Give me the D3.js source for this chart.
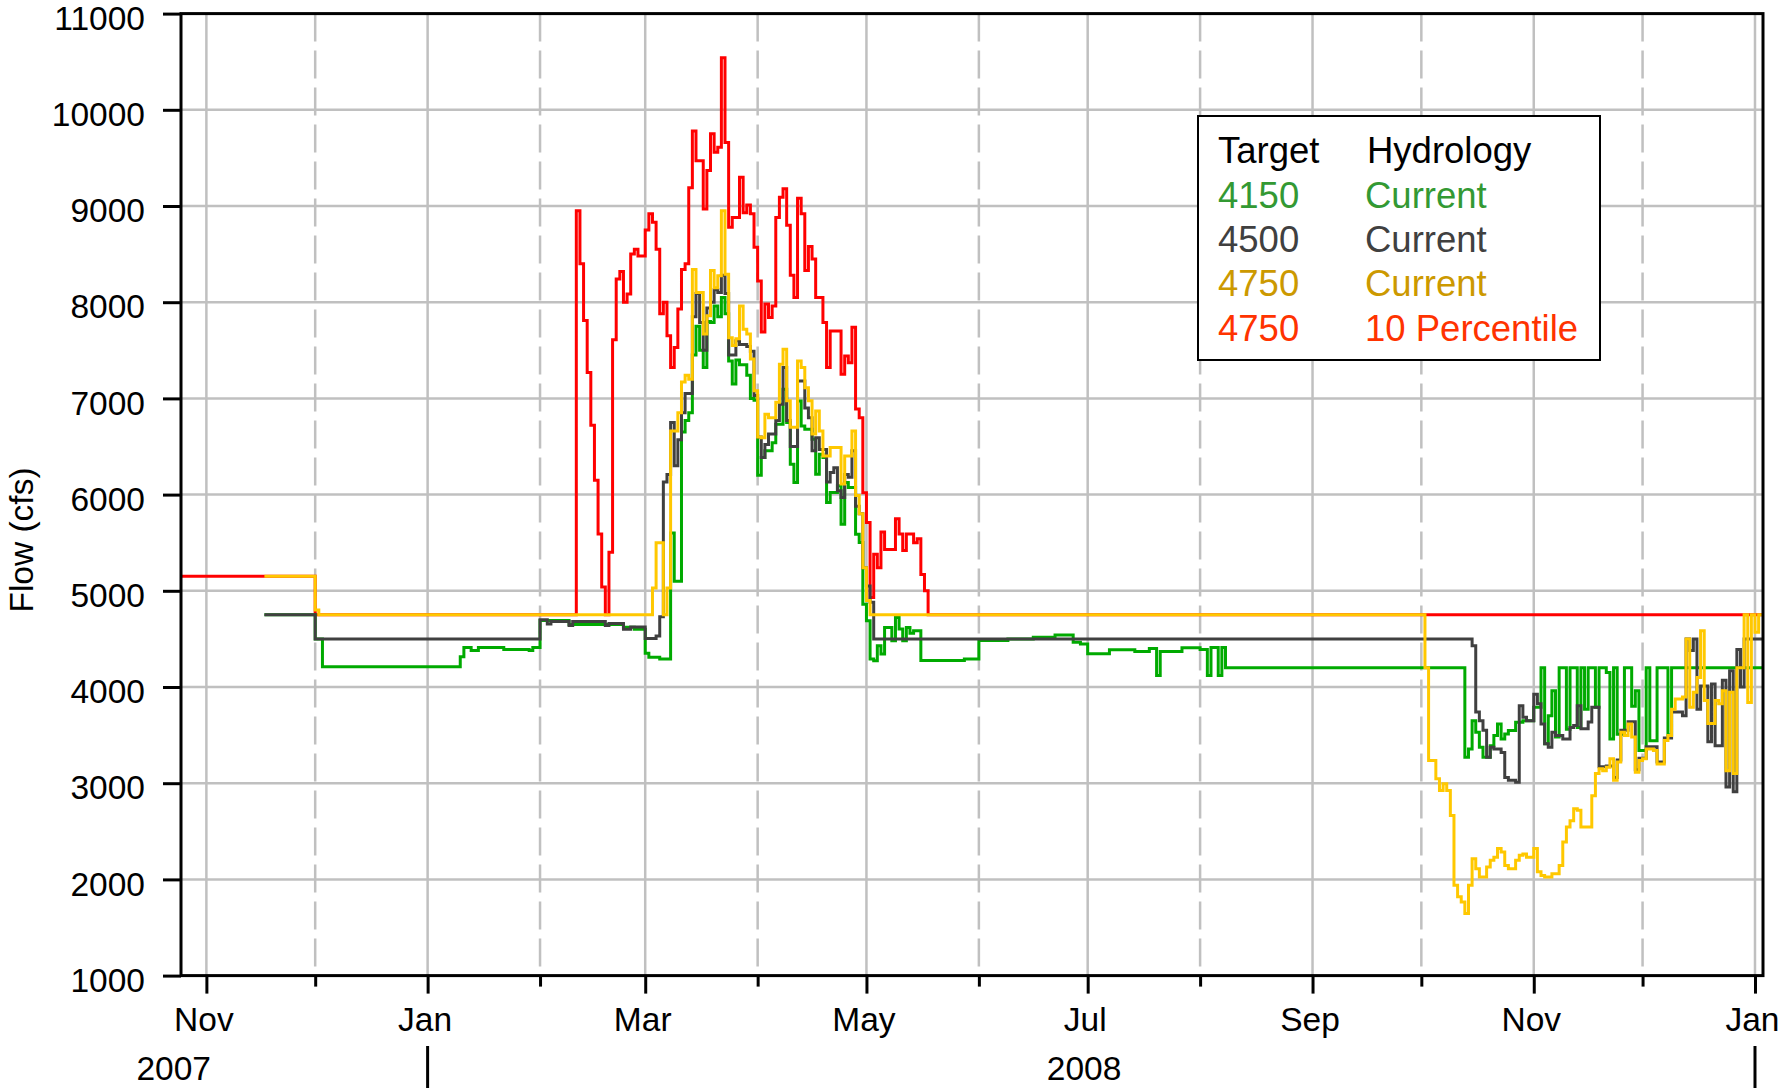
<!DOCTYPE html>
<html>
<head>
<meta charset="utf-8">
<script src="https://cdn.jsdelivr.net/npm/d3@7"></script>
<style>
  body { margin: 0; background: #fff; }
  text { font-family: "Liberation Sans", Arial, Helvetica, sans-serif; }
</style>
</head>
<body>
<div id="chart"></div>
<script>
// daily flow (cfs) as change points: each value holds until the next date

const red10Pct = [
  ["2007-10-25", 5150], ["2007-12-01", 4750],
  ["2008-02-11", 8950], ["2008-02-12", 8400], ["2008-02-13", 7810], ["2008-02-14", 7270],
  ["2008-02-15", 6720], ["2008-02-16", 6150], ["2008-02-17", 5590], ["2008-02-18", 5040],
  ["2008-02-19", 4750], ["2008-02-20", 5400], ["2008-02-21", 7610], ["2008-02-22", 8240],
  ["2008-02-23", 8320], ["2008-02-24", 8000], ["2008-02-25", 8085], ["2008-02-26", 8500],
  ["2008-02-27", 8550], ["2008-02-28", 8480], ["2008-03-01", 8750], ["2008-03-02", 8920],
  ["2008-03-03", 8830], ["2008-03-04", 8550], ["2008-03-05", 7880], ["2008-03-06", 8000],
  ["2008-03-07", 7650], ["2008-03-08", 7320], ["2008-03-09", 7530], ["2008-03-10", 7930],
  ["2008-03-11", 8340], ["2008-03-12", 8400], ["2008-03-13", 9190], ["2008-03-14", 9780],
  ["2008-03-15", 9470], ["2008-03-17", 8970], ["2008-03-18", 9370], ["2008-03-19", 9750],
  ["2008-03-20", 9560], ["2008-03-21", 9610], ["2008-03-22", 10540], ["2008-03-23", 9660],
  ["2008-03-24", 8780], ["2008-03-25", 8880], ["2008-03-27", 9300], ["2008-03-28", 8930],
  ["2008-03-29", 9010], ["2008-03-30", 8920], ["2008-03-31", 8570], ["2008-04-01", 8220],
  ["2008-04-02", 7690], ["2008-04-03", 7980], ["2008-04-04", 7840], ["2008-04-05", 7960],
  ["2008-04-06", 8880], ["2008-04-07", 9090], ["2008-04-08", 9180], ["2008-04-09", 8800],
  ["2008-04-10", 8280], ["2008-04-11", 8050], ["2008-04-12", 9080], ["2008-04-13", 8920],
  ["2008-04-14", 8330], ["2008-04-15", 8580], ["2008-04-16", 8450], ["2008-04-17", 8050],
  ["2008-04-19", 7790], ["2008-04-20", 7320], ["2008-04-21", 7700], ["2008-04-24", 7250],
  ["2008-04-25", 7440], ["2008-04-26", 7370], ["2008-04-27", 7740], ["2008-04-28", 6890],
  ["2008-04-29", 6800], ["2008-04-30", 6020], ["2008-05-01", 5710], ["2008-05-02", 4930],
  ["2008-05-03", 5380], ["2008-05-04", 5240], ["2008-05-05", 5610], ["2008-05-06", 5430],
  ["2008-05-09", 5750], ["2008-05-10", 5590], ["2008-05-11", 5420], ["2008-05-12", 5590],
  ["2008-05-14", 5500], ["2008-05-15", 5540], ["2008-05-16", 5170], ["2008-05-17", 5000],
  ["2008-05-18", 4750]
]

const green4150 = [
  ["2007-11-17", 4750], ["2007-12-01", 4500], ["2007-12-03", 4210],
  ["2008-01-10", 4315], ["2008-01-11", 4410], ["2008-01-13", 4380], ["2008-01-15", 4410],
  ["2008-01-22", 4390], ["2008-01-29", 4380], ["2008-01-30", 4410],
  ["2008-02-01", 4690], ["2008-02-09", 4650], ["2008-02-24", 4620], ["2008-02-27", 4600],
  ["2008-03-01", 4350], ["2008-03-02", 4310], ["2008-03-05", 4290],
  ["2008-03-08", 5600], ["2008-03-09", 5100], ["2008-03-11", 6650], ["2008-03-12", 6770],
  ["2008-03-13", 6850], ["2008-03-14", 7450], ["2008-03-15", 7750], ["2008-03-16", 7500],
  ["2008-03-17", 7320], ["2008-03-18", 7800], ["2008-03-19", 7790], ["2008-03-20", 7960],
  ["2008-03-21", 7850], ["2008-03-22", 8050], ["2008-03-23", 7880], ["2008-03-24", 7390],
  ["2008-03-25", 7150], ["2008-03-26", 7400], ["2008-03-27", 7350], ["2008-03-29", 7240],
  ["2008-03-30", 7000], ["2008-03-31", 6980], ["2008-04-01", 6200], ["2008-04-02", 6385],
  ["2008-04-03", 6455], ["2008-04-05", 6540], ["2008-04-06", 6730], ["2008-04-08", 7095],
  ["2008-04-09", 6750], ["2008-04-10", 6316], ["2008-04-11", 6126], ["2008-04-12", 6974],
  ["2008-04-13", 6714], ["2008-04-14", 6680], ["2008-04-16", 6576], ["2008-04-17", 6212],
  ["2008-04-18", 6420], ["2008-04-19", 6385], ["2008-04-20", 5918], ["2008-04-21", 6022],
  ["2008-04-23", 6091], ["2008-04-24", 5693], ["2008-04-25", 6126], ["2008-04-26", 6074],
  ["2008-04-28", 5589], ["2008-04-29", 5502], ["2008-04-30", 4861], ["2008-05-01", 4688],
  ["2008-05-02", 4290], ["2008-05-03", 4273], ["2008-05-04", 4429], ["2008-05-05", 4342],
  ["2008-05-06", 4619], ["2008-05-08", 4481], ["2008-05-09", 4723], ["2008-05-10", 4602],
  ["2008-05-11", 4481], ["2008-05-12", 4619], ["2008-05-13", 4560], ["2008-05-14", 4586],
  ["2008-05-16", 4276], ["2008-05-28", 4290], ["2008-06-01", 4483], ["2008-06-09", 4500],
  ["2008-06-16", 4517], ["2008-06-22", 4541], ["2008-06-27", 4466], ["2008-06-29", 4448],
  ["2008-07-01", 4345], ["2008-07-07", 4386], ["2008-07-14", 4370], ["2008-07-18", 4400],
  ["2008-07-20", 4120], ["2008-07-21", 4370], ["2008-07-27", 4407], ["2008-08-01", 4390],
  ["2008-08-03", 4120], ["2008-08-04", 4410], ["2008-08-06", 4120], ["2008-08-07", 4410],
  ["2008-08-08", 4200],
  ["2008-10-13", 3270], ["2008-10-14", 3356], ["2008-10-15", 3650], ["2008-10-16", 3529],
  ["2008-10-17", 3374], ["2008-10-18", 3270], ["2008-10-20", 3390], ["2008-10-21", 3495],
  ["2008-10-22", 3616], ["2008-10-23", 3460], ["2008-10-24", 3512], ["2008-10-25", 3547],
  ["2008-10-27", 3633], ["2008-10-29", 3650], ["2008-11-01", 3790], ["2008-11-03", 4200],
  ["2008-11-04", 3410], ["2008-11-05", 3700], ["2008-11-06", 3960], ["2008-11-07", 3480],
  ["2008-11-08", 4200], ["2008-11-10", 3560], ["2008-11-11", 4200], ["2008-11-13", 3580],
  ["2008-11-14", 4200], ["2008-11-15", 3770], ["2008-11-16", 4200], ["2008-11-18", 3790],
  ["2008-11-19", 4200], ["2008-11-21", 4150], ["2008-11-22", 3460], ["2008-11-23", 4200],
  ["2008-11-24", 3510], ["2008-11-26", 4200], ["2008-11-28", 3800], ["2008-11-29", 3960],
  ["2008-11-30", 3340], ["2008-12-02", 4200], ["2008-12-03", 3440], ["2008-12-05", 4200],
  ["2008-12-08", 3500], ["2008-12-09", 4200]
]

const black4500 = [
  ["2007-11-17", 4750], ["2007-12-01", 4500],
  ["2008-02-01", 4700], ["2008-02-03", 4655], ["2008-02-04", 4680], ["2008-02-09", 4640],
  ["2008-02-10", 4680], ["2008-02-19", 4640], ["2008-02-20", 4660], ["2008-02-24", 4600],
  ["2008-02-26", 4625], ["2008-03-01", 4505], ["2008-03-04", 4530], ["2008-03-05", 4730],
  ["2008-03-06", 6130], ["2008-03-07", 6210], ["2008-03-08", 6750], ["2008-03-09", 6300],
  ["2008-03-10", 6570], ["2008-03-11", 6850], ["2008-03-12", 7050], ["2008-03-14", 7850],
  ["2008-03-15", 8090], ["2008-03-16", 7790], ["2008-03-17", 7500], ["2008-03-18", 7940],
  ["2008-03-19", 8000], ["2008-03-20", 8130], ["2008-03-21", 8100], ["2008-03-22", 8280],
  ["2008-03-23", 8090], ["2008-03-24", 7450], ["2008-03-26", 7600], ["2008-03-27", 7560],
  ["2008-03-29", 7540], ["2008-03-30", 7490], ["2008-03-31", 7030], ["2008-04-01", 6600],
  ["2008-04-02", 6385], ["2008-04-03", 6520], ["2008-04-04", 6630], ["2008-04-06", 6770],
  ["2008-04-07", 6940], ["2008-04-08", 7320], ["2008-04-09", 6770], ["2008-04-10", 6500],
  ["2008-04-12", 7180], ["2008-04-14", 6900], ["2008-04-15", 6800], ["2008-04-16", 6455],
  ["2008-04-17", 6590], ["2008-04-18", 6470], ["2008-04-20", 6130], ["2008-04-21", 6230],
  ["2008-04-22", 6280], ["2008-04-23", 6040], ["2008-04-24", 5970], ["2008-04-25", 6210],
  ["2008-04-26", 6180], ["2008-04-27", 6455], ["2008-04-28", 5880], ["2008-04-29", 5800],
  ["2008-04-30", 5240], ["2008-05-01", 5050], ["2008-05-02", 4880], ["2008-05-03", 4500],
  ["2008-10-15", 4430], ["2008-10-16", 3740], ["2008-10-17", 3650], ["2008-10-18", 3550],
  ["2008-10-19", 3270], ["2008-10-20", 3375], ["2008-10-21", 3355], ["2008-10-23", 3320],
  ["2008-10-24", 3060], ["2008-10-25", 3030], ["2008-10-27", 3010], ["2008-10-28", 3805],
  ["2008-10-29", 3685], ["2008-10-30", 3650], ["2008-11-01", 3925], ["2008-11-02", 3825],
  ["2008-11-03", 3615], ["2008-11-04", 3410], ["2008-11-05", 3375], ["2008-11-06", 3530],
  ["2008-11-07", 3495], ["2008-11-09", 3460], ["2008-11-11", 3580], ["2008-11-12", 3600],
  ["2008-11-13", 3805], ["2008-11-14", 3565], ["2008-11-16", 3635], ["2008-11-17", 3790],
  ["2008-11-19", 3170], ["2008-11-21", 3180], ["2008-11-23", 3060], ["2008-11-24", 3240],
  ["2008-11-25", 3550], ["2008-11-27", 3640], ["2008-11-29", 3140], ["2008-11-30", 3260],
  ["2008-12-02", 3380], ["2008-12-05", 3220], ["2008-12-07", 3470], ["2008-12-09", 3740],
  ["2008-12-12", 3700], ["2008-12-13", 4500], ["2008-12-14", 4380], ["2008-12-15", 4500],
  ["2008-12-16", 3770], ["2008-12-17", 4010], ["2008-12-19", 3430], ["2008-12-20", 4030],
  ["2008-12-21", 3390], ["2008-12-23", 4070], ["2008-12-24", 2960], ["2008-12-25", 4170],
  ["2008-12-26", 2910], ["2008-12-27", 4390], ["2008-12-28", 4000], ["2008-12-29", 4500]
]

const yellow4750 = [
  ["2007-11-17", 5150], ["2007-12-01", 4800], ["2007-12-02", 4750],
  ["2008-03-03", 5030], ["2008-03-04", 5500], ["2008-03-06", 4750], ["2008-03-07", 5030],
  ["2008-03-08", 6660], ["2008-03-10", 6850], ["2008-03-11", 7170], ["2008-03-12", 7240],
  ["2008-03-13", 7200], ["2008-03-14", 8340], ["2008-03-15", 8100], ["2008-03-17", 7670],
  ["2008-03-18", 7860], ["2008-03-19", 8330], ["2008-03-20", 8150], ["2008-03-21", 8275],
  ["2008-03-22", 8950], ["2008-03-23", 8290], ["2008-03-24", 7630], ["2008-03-25", 7550],
  ["2008-03-26", 7620], ["2008-03-27", 7960], ["2008-03-28", 7720], ["2008-03-29", 7670],
  ["2008-03-30", 7410], ["2008-03-31", 7080], ["2008-04-01", 6600], ["2008-04-02", 6590],
  ["2008-04-03", 6835], ["2008-04-04", 6800], ["2008-04-06", 6960], ["2008-04-07", 7355],
  ["2008-04-08", 7510], ["2008-04-09", 6975], ["2008-04-10", 6700], ["2008-04-12", 7390],
  ["2008-04-13", 7320], ["2008-04-14", 7110], ["2008-04-15", 6975], ["2008-04-16", 6630],
  ["2008-04-17", 6870], ["2008-04-18", 6660], ["2008-04-19", 6400], ["2008-04-21", 6490],
  ["2008-04-24", 6110], ["2008-04-25", 6400], ["2008-04-27", 6660], ["2008-04-28", 5990],
  ["2008-04-29", 5800], ["2008-04-30", 5240], ["2008-05-01", 4900], ["2008-05-02", 4750],
  ["2008-10-02", 4200], ["2008-10-03", 3235], ["2008-10-05", 3045], ["2008-10-06", 2925],
  ["2008-10-07", 2995], ["2008-10-08", 2925], ["2008-10-09", 2665], ["2008-10-10", 1940],
  ["2008-10-11", 1820], ["2008-10-12", 1765], ["2008-10-13", 1645], ["2008-10-14", 1940],
  ["2008-10-15", 2215], ["2008-10-16", 2110], ["2008-10-17", 2025], ["2008-10-19", 2130],
  ["2008-10-20", 2200], ["2008-10-21", 2230], ["2008-10-22", 2320], ["2008-10-23", 2285],
  ["2008-10-24", 2145], ["2008-10-25", 2110], ["2008-10-27", 2200], ["2008-10-28", 2250],
  ["2008-10-29", 2265], ["2008-10-30", 2230], ["2008-11-01", 2320], ["2008-11-02", 2080],
  ["2008-11-03", 2040], ["2008-11-04", 2025], ["2008-11-06", 2060], ["2008-11-08", 2145],
  ["2008-11-09", 2390], ["2008-11-10", 2545], ["2008-11-11", 2610], ["2008-11-12", 2735],
  ["2008-11-13", 2720], ["2008-11-14", 2545], ["2008-11-17", 2870], ["2008-11-18", 3100],
  ["2008-11-19", 3150], ["2008-11-20", 3130], ["2008-11-21", 3165], ["2008-11-22", 3255],
  ["2008-11-23", 3030], ["2008-11-24", 3220], ["2008-11-25", 3530], ["2008-11-26", 3495],
  ["2008-11-27", 3615], ["2008-11-28", 3480], ["2008-11-29", 3115], ["2008-11-30", 3235],
  ["2008-12-01", 3255], ["2008-12-02", 3355], ["2008-12-04", 3340], ["2008-12-05", 3200],
  ["2008-12-07", 3445], ["2008-12-08", 3495], ["2008-12-09", 3770], ["2008-12-10", 3875],
  ["2008-12-12", 3895], ["2008-12-13", 4500], ["2008-12-14", 3790], ["2008-12-15", 3945],
  ["2008-12-16", 4100], ["2008-12-17", 4585], ["2008-12-18", 3860], ["2008-12-19", 3620],
  ["2008-12-21", 3860], ["2008-12-22", 3825], ["2008-12-23", 3960], ["2008-12-24", 3130],
  ["2008-12-25", 3945], ["2008-12-26", 3100], ["2008-12-27", 4200], ["2008-12-29", 4750],
  ["2008-12-30", 3840], ["2008-12-31", 4750], ["2009-01-01", 4570], ["2009-01-02", 4750]
]

const yTicks = [1000, 2000, 3000, 4000, 5000, 6000, 7000, 8000, 9000, 10000, 11000]
const years = [["2007", "2007-10-23"], ["2008", "2008-06-30"]]
const yearBreaks = ["2008-01-01", "2009-01-01"]

const legendTargets = ["4150", "4500", "4750", "4750"]
const legendHydrology = ["Current", "Current", "Current", "10 Percentile"]
const legendTextColors = ["#339933", "#404040", "#cc9900", "#ff3300"]

const w = 1787
const h = 1088
const plotLeft = 181, plotRight = 1763, plotTop = 13.6, plotBottom = 975.6
const labelSize = "33.5px"

const parse = d3.utcParse("%Y-%m-%d")
const endDate = new Date(Date.UTC(2009, 0, 3, 5))

const x = d3.scaleUtc()
  .domain([new Date(Date.UTC(2007, 9, 25)), endDate])
  .range([plotLeft, plotRight])

const y = d3.scaleLinear()
  .domain([1000, 11000])
  .range([plotBottom, plotTop])

const svg = d3.select("#chart")
  .append("svg")
  .attr("width", w)
  .attr("height", h)
  .style("display", "block")

svg.append("rect").attr("width", w).attr("height", h).attr("fill", "#fff")

const months = d3.utcMonth.range(new Date(Date.UTC(2007, 10, 1)), new Date(Date.UTC(2009, 0, 2)))
const isMajor = (d) => d.getUTCMonth() % 2 === 0

// grid
svg.append("g")
  .selectAll("line")
  .data(yTicks.slice(1, -1))
  .join("line")
  .attr("x1", plotLeft)
  .attr("x2", plotRight)
  .attr("y1", (d) => y(d))
  .attr("y2", (d) => y(d))
  .attr("stroke", "#c0c0c0")
  .attr("stroke-width", 2.5)

svg.append("g")
  .selectAll("line")
  .data(months)
  .join("line")
  .attr("x1", (d) => x(d))
  .attr("x2", (d) => x(d))
  .attr("y1", plotTop)
  .attr("y2", plotBottom)
  .attr("stroke", "#c0c0c0")
  .attr("stroke-width", 2.5)
  .attr("stroke-dasharray", (d) => isMajor(d) ? null : "28,9")

// series
svg.append("clipPath").attr("id", "plot")
  .append("rect")
  .attr("x", plotLeft).attr("y", plotTop)
  .attr("width", plotRight - plotLeft).attr("height", plotBottom - plotTop)

const line = d3.line()
  .x((d) => x(d.date))
  .y((d) => y(d.value))
  .curve(d3.curveStepAfter)

const series = [
  { pts: red10Pct, color: "#ff0000" },
  { pts: green4150, color: "#00aa00" },
  { pts: black4500, color: "#404040" },
  { pts: yellow4750, color: "#ffc800" }
]

const plot = svg.append("g").attr("clip-path", "url(#plot)")

series.forEach((s) => {
  let data = s.pts.map(([d, v]) => ({ date: parse(d), value: v }))
  data.push({ date: endDate, value: data[data.length - 1].value })
  plot.append("path")
    .datum(data)
    .attr("d", line)
    .attr("fill", "none")
    .attr("stroke", s.color)
    .attr("stroke-width", 3)
})

// axes
const yAxis = d3.axisLeft(y)
  .tickValues(yTicks)
  .tickFormat(d3.format("d"))
  .tickSize(18)
  .tickPadding(18)

svg.append("g")
  .attr("transform", `translate(${plotLeft},0)`)
  .call(yAxis)
  .call((g) => g.select(".domain").remove())
  .call((g) => g.selectAll("line").attr("stroke", "#000").attr("stroke-width", 3))
  .call((g) => g.selectAll("text")
    .attr("dy", "0.47em")
    .attr("fill", "#000")
    .style("font-size", labelSize))

const xAxis = d3.axisBottom(x)
  .tickValues(months)
  .tickSize(18)
  .tickPadding(13.5)
  .tickFormat((d) => isMajor(d) ? d3.utcFormat("%b")(d) : "")

svg.append("g")
  .attr("transform", `translate(0,${plotBottom})`)
  .call(xAxis)
  .call((g) => g.select(".domain").remove())
  .call((g) => g.selectAll("line")
    .attr("stroke", "#000")
    .attr("stroke-width", 3)
    .attr("y2", (d) => isMajor(d) ? 18 : 11))
  .call((g) => g.selectAll("text")
    .attr("dx", -3)
    .attr("fill", "#000")
    .style("font-size", labelSize))

svg.append("rect")
  .attr("x", plotLeft)
  .attr("y", plotTop)
  .attr("width", plotRight - plotLeft)
  .attr("height", plotBottom - plotTop)
  .attr("fill", "none")
  .attr("stroke", "#000")
  .attr("stroke-width", 3)

// year row
svg.append("g")
  .selectAll("text")
  .data(years)
  .join("text")
  .attr("x", (d) => x(parse(d[1])))
  .attr("y", 1080)
  .attr("text-anchor", "middle")
  .style("font-size", labelSize)
  .text((d) => d[0])

svg.append("g")
  .selectAll("line")
  .data(yearBreaks)
  .join("line")
  .attr("x1", (d) => x(parse(d)))
  .attr("x2", (d) => x(parse(d)))
  .attr("y1", 1046)
  .attr("y2", h)
  .attr("stroke", "#000")
  .attr("stroke-width", 3)

svg.append("text")
  .attr("transform", "translate(33,540) rotate(-90)")
  .attr("text-anchor", "middle")
  .style("font-size", labelSize)
  .text("Flow (cfs)")

// legend
const legend = svg.append("g")

legend.append("rect")
  .attr("x", 1198)
  .attr("y", 116)
  .attr("width", 402)
  .attr("height", 244)
  .attr("fill", "#fff")
  .attr("stroke", "#000")
  .attr("stroke-width", 2)

legend.append("text").attr("x", 1218).attr("y", 163).style("font-size", "36.5px").text("Target")
legend.append("text").attr("x", 1367).attr("y", 163).style("font-size", "36.5px").text("Hydrology")

legendTargets.forEach((t, i) => {
  legend.append("text")
    .attr("x", 1218)
    .attr("y", 207.5 + i * 44.4)
    .attr("fill", legendTextColors[i])
    .style("font-size", "36.5px")
    .text(t)
  legend.append("text")
    .attr("x", 1365)
    .attr("y", 207.5 + i * 44.4)
    .attr("fill", legendTextColors[i])
    .style("font-size", "36.5px")
    .text(legendHydrology[i])
})
</script>
</body>
</html>
